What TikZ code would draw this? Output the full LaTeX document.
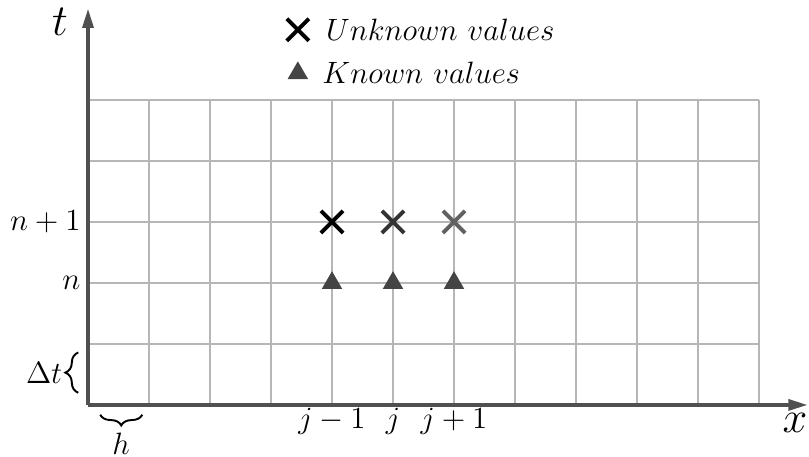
\documentclass[tikz,border=0pt]{standalone}
\definecolor{axisgray}{RGB}{80, 80, 80}
\definecolor{gridgray}{RGB}{182, 182, 182}
\definecolor{markgray}{RGB}{68, 68, 68}
\usepackage{tikz}
\usetikzlibrary{arrows.meta, positioning, shapes.misc, shapes.geometric, decorations.pathreplacing}
\usepackage{amsmath, amssymb}

\begin{document}
\begin{tikzpicture}[
  gridline/.style={draw=gridgray, line width=1.3pt},
  axisline/.style={draw=axisgray, line width=1.7pt, -{Triangle[length=9pt, width=5pt]}},
  unknown/.style={cross out, draw, line width=1.8pt, minimum size=8.5pt, inner sep=0pt},
  known/.style={regular polygon, regular polygon sides=3, fill=markgray, minimum size=11pt, inner sep=0pt},
  bracemark/.style={decorate, decoration={brace, amplitude=6pt}, line width=0.9pt},
  ticklabel/.style={font=\Large},
]
  \useasboundingbox (-1.443,-0.852) rectangle (11.82,6.639);

  % Mesh
  \draw[gridline] (0,0) grid (11,5);

  % Axes
  \coordinate (O) at (0,0);
  \coordinate (xend) at (11.8,0);
  \coordinate (tend) at (0,6.5);
  \draw[axisline] (O) -- (xend);
  \draw[axisline] (O) -- (tend);
  \node[font=\huge] (xlab) at (11.59,-0.3) {$x$};
  \node[font=\huge] (tlab) at (-0.46,6.28) {$t$};

  % Legend
  \node[unknown] (ukmark) at (3.44,6.15) {};
  \node[ticklabel, right=4.5pt of ukmark] (uktext) {$Unknown\ values$};
  \node[known] (kmark) at (3.44,5.44) {};
  \node[ticklabel, right=4.5pt of kmark] (ktext) {$Known\ values$};

  % Stencil points
  \node[unknown, draw=black] (u1) at (4,3) {};
  \node[unknown, draw=black!80] (u2) at (5,3) {};
  \node[unknown, draw=black!62] (u3) at (6,3) {};
  \node[known] (k1) at (4,2) {};
  \node[known] (k2) at (5,2) {};
  \node[known] (k3) at (6,2) {};

  % Index labels
  \node[ticklabel, anchor=east] (np1) at (0,3) {$n+1$};
  \node[ticklabel, anchor=east] (nn) at (0,2) {$n$};
  \node[ticklabel, anchor=base] (jm1) at (4,-0.39) {$j-1$};
  \node[ticklabel, anchor=base] (jj) at (5,-0.39) {$j$};
  \node[ticklabel, anchor=base] (jp1) at (6,-0.39) {$j+1$};

  % Step sizes
  \coordinate (dtlo) at (-0.16,0.2);
  \coordinate (dthi) at (-0.16,0.86);
  \draw[bracemark] (dtlo) -- (dthi);
  \node[ticklabel, anchor=east] (dtlab) at (-0.3,0.53) {$\Delta t$};
  \coordinate (hlo) at (0.2,-0.16);
  \coordinate (hhi) at (0.89,-0.16);
  \draw[bracemark, decoration={mirror, amplitude=5pt}] (hlo) -- (hhi);
  \node[ticklabel, inner sep=0pt] (hlab) at (0.54,-0.63) {$h$};
\end{tikzpicture}
\end{document}
